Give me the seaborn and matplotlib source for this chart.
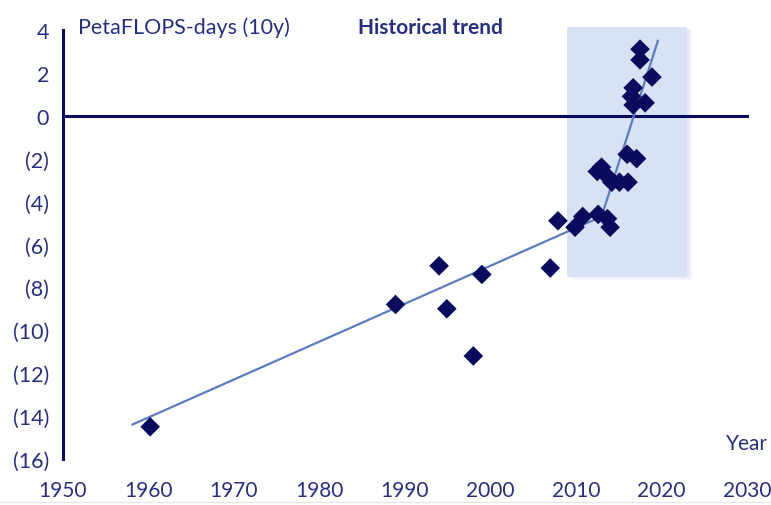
import numpy as np
import matplotlib.pyplot as plt
import matplotlib.ticker as mticker
import seaborn as sns
import pandas as pd

# data
years = [1960.2, 1988.9, 1994.0, 1994.9, 1998.0, 1999.0, 2007.0, 2007.9,
         2009.9, 2010.8, 2012.6, 2013.7, 2014.0,
         2012.5, 2013.0, 2013.6, 2014.2, 2015.1, 2016.1, 2016.0, 2017.1,
         2017.5, 2017.5, 2018.9, 2016.7, 2016.5, 2018.1, 2016.7]
petaflops_log = [-14.5, -8.8, -7.0, -9.0, -11.2, -7.4, -7.1, -4.9,
                 -5.2, -4.7, -4.6, -4.8, -5.2,
                 -2.6, -2.4, -2.8, -3.1, -3.1, -3.1, -1.8, -2.0,
                 3.1, 2.6, 1.8, 1.3, 0.9, 0.6, 0.5]
trend_years = [1958.1, 2013.0, 2019.6]
trend_vals = [-14.4, -4.7, 3.5]
shade_years = [2009.0, 2023.0]
shade_vals = [-7.5, 4.15]

df = pd.DataFrame({"year": years, "val": petaflops_log})
trend = pd.DataFrame({"year": trend_years, "val": trend_vals})

navy = "#0b0b5e"
txt = "#28307e"
sns.set_style("white")
plt.rcParams["font.family"] = ["Lato", "DejaVu Sans"]

fig = plt.figure(figsize=(7.71, 5.06), dpi=100)
ax = fig.add_axes([0.0817, 0.091, 0.887, 0.848])

# highlighted window with a soft shadow
for off, a in [(0.6, 0.10), (0.35, 0.15)]:
    ax.fill_between([shade_years[0] + off, shade_years[1] + off],
                    shade_vals[0] - off * 0.25, shade_vals[1] - off * 0.25,
                    color="#9fb0d8", alpha=a, lw=0, clip_on=False, zorder=0)
ax.fill_between(shade_years, shade_vals[0], shade_vals[1],
                color="#d9e1f5", lw=0, clip_on=False, zorder=0.5)

sns.lineplot(data=trend, x="year", y="val", ax=ax, color="#5b7dbe",
             lw=1.6, zorder=3)
sns.scatterplot(data=df, x="year", y="val", ax=ax, marker="D", s=100,
                color=navy, edgecolor="none", zorder=4)

ax.set_xlim(1950, 2030)
ax.set_ylim(-16, 4)
ax.set_xlabel("")
ax.set_ylabel("")

for s in ["top", "right"]:
    ax.spines[s].set_visible(False)
ax.spines["bottom"].set_position(("data", 0))
for s in ["left", "bottom"]:
    ax.spines[s].set_color(navy)
    ax.spines[s].set_linewidth(2.2)

ax.set_xticks(np.arange(1950, 2031, 10))
ax.set_yticks(np.arange(-16, 5, 2))
ax.yaxis.set_major_formatter(mticker.FuncFormatter(
    lambda v, p: f"({abs(int(v))})" if v < 0 else f"{int(v)}"))
ax.tick_params(axis="x", direction="out", length=6, width=2, color=navy,
               labelbottom=False)
ax.tick_params(axis="y", direction="out", length=6, width=2, color=navy,
               labelsize=15.5, labelcolor=txt, pad=4)

# year labels along the bottom
sec = ax.secondary_xaxis(0)
sec.set_xticks(np.arange(1950, 2031, 10))
sec.spines["bottom"].set_visible(False)
sec.tick_params(length=0, labelsize=15, labelcolor=txt, pad=15)

ax.text(2030, -15.7, "Year", ha="center", va="bottom", fontsize=15, color=txt)
ax.text(1951.8, 4.15, "PetaFLOPS-days (10y)", ha="left", va="center",
        fontsize=15.5, color=txt)
ax.text(1993.0, 4.15, "Historical trend", ha="center", va="center",
        fontsize=15, color=txt, fontweight="bold")

fig.add_artist(plt.Line2D([0.0, 1.0], [0.006, 0.006], color="#e6e6e6", lw=1))

fig.savefig("out.png", dpi=100)
